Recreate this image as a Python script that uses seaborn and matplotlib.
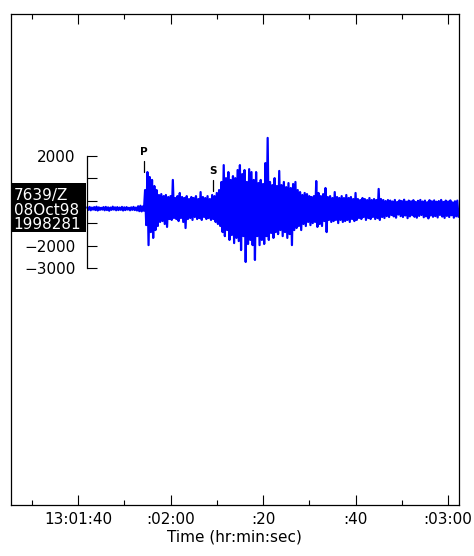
import matplotlib
matplotlib.use("Agg")
import matplotlib.pyplot as plt
import numpy as np
import pandas as pd
import seaborn as sns
from matplotlib.patches import Rectangle
from matplotlib.ticker import MultipleLocator

sns.set_style("white")
plt.rcParams['font.family'] = ['DejaVu Sans']
plt.rcParams.update({"text.color": "black", "axes.labelcolor": "black",
                     "xtick.color": "black", "ytick.color": "black"})

# station / trace labels
station_label = ["7639/Z", "08Oct98", "1998281"]

# seconds after 13:00:00
trace_start = 102.0
sample_step = 0.5

# envelope of the trace (counts), one max / min pair per half second
upper = [-300, -280, -310, -290, -270, -300, -320, -290, -280, -300,
         -310, -270, -300, -290, -310, -280, -300, -290, -320, -300,
         -280, -310, -250, -230, -260,
         470, 1270, 1050, 920, 650, 470, 250, 290, 200, 250,
         160, 200, 920, 115, 200, 340, 160, 115, 200, 70,
         160, 115, 200, 70, 380, 160, 115, 200, 70, 250,
         200, 340, 470, 830, 1580, 1000, 1270, 920, 1090, 1000,
         1360, 1580, 1180, 1360, 830, 1400, 1270, 920, 1270, 780,
         920, 740, 1670, 2790, 830, 690, 1000, 650, 1320, 690,
         830, 600, 780, 560, 740, 830, 470, 380, 250, 340,
         290, 200, 160, 200, 870, 340, 200, 290, 560, 160,
         200, 115, 380, 160, 115, 200, 115, 250, 115, 160,
         70, 340, 70, 25, 115, 70, 25, 115, 25, 70,
         25, 520, 70, 25, -20, 25,
         0, -40, 30, -60, 10, -20, 40, -50, 0, -30,
         20, -60, -10, 30, -40, 0, -70, 20, -30, 10,
         -50, -20, 30, -60, 0, -40, 10, -80, -30, 0]
lower = [-410, -430, -400, -420, -440, -410, -400, -430, -420, -450,
         -410, -400, -430, -420, -410, -440, -420, -400, -430, -410,
         -420, -440, -470, -480, -450,
         -1090, -1980, -1400, -1660, -1310, -1130, -950, -910, -1040, -1170,
         -820, -860, -775, -820, -910, -775, -950, -1220, -820, -775,
         -860, -730, -820, -775, -860, -730, -820, -775, -860, -820,
         -950, -1040, -1130, -1400, -1580, -1310, -1750, -1530, -1890, -1660,
         -1800, -2200, -1580, -2730, -1930, -1750, -1980, -2640, -1580, -1980,
         -1750, -1930, -1580, -1750, -1440, -1660, -1400, -1490, -1310, -1580,
         -1400, -1660, -1490, -1980, -1310, -1220, -1130, -1310, -1040, -1130,
         -950, -1090, -1000, -950, -1170, -1040, -1130, -910, -1400, -860,
         -950, -910, -860, -1000, -860, -950, -910, -860, -950, -820,
         -910, -860, -775, -820, -730, -860, -775, -820, -730, -820,
         -775, -860, -730, -775, -690, -730,
         -640, -700, -760, -620, -690, -730, -660, -780, -700, -650,
         -720, -760, -680, -640, -740, -700, -790, -660, -720, -690,
         -750, -640, -710, -770, -680, -730, -650, -760, -700, -720]

# phase picks
phase_names = ["P", "S"]
phase_times = [114.2, 129.25]
phase_levels = [1760, 920]

# axes
x_ticks = [100, 120, 140, 160, 180]
x_tick_labels = ["13:01:40", ":02:00", ":20", ":40", ":03:00"]
y_ticks = [-3000, -2000, -1000, 0, 1000, 2000]
y_tick_labels = ["\u22123000", "\u22122000", "", "", "", "2000"]
x_range = (85.45, 182.37)
y_range = (-13546, 8304)

n = min(len(upper), len(lower))
t = trace_start + sample_step * np.arange(n)
df = pd.DataFrame({
    "time": np.column_stack([t, t + sample_step / 2]).ravel(),
    "counts": np.column_stack([upper[:n], lower[:n]]).ravel(),
})

fig = plt.figure(figsize=(4.74, 5.56), dpi=100)
ax = fig.add_axes([0.0226, 0.0917, 0.9458, 0.8831])
sns.lineplot(data=df, x="time", y="counts", sort=False, estimator=None,
             color="#0000ff", linewidth=1.6, ax=ax)
ax.set_xlim(*x_range)
ax.set_ylim(*y_range)
for s in ax.spines.values():
    s.set_color("black")
    s.set_linewidth(0.9)
ax.set_xticks(x_ticks)
ax.set_xticklabels(x_tick_labels, fontsize=11)
ax.xaxis.set_minor_locator(MultipleLocator(10))
ax.tick_params(axis="x", which="both", direction="in", top=True, bottom=True,
               width=0.8, color="black", pad=5)
ax.tick_params(axis="x", which="major", length=7.5)
ax.tick_params(axis="x", which="minor", length=3.5)
ax.set_yticks([])
ax.set_xlabel("Time (hr:min:sec)", fontsize=11, labelpad=2)
ax.set_ylabel("")

# amplitude axis drawn at the trace start
ay = fig.add_axes(ax.get_position(), facecolor="none")
ay.set_xlim(*x_range)
ay.set_ylim(*y_range)
for k in ["top", "right", "bottom"]:
    ay.spines[k].set_visible(False)
ay.spines["left"].set_position(("data", trace_start))
ay.spines["left"].set_bounds(y_ticks[0], y_ticks[-1])
ay.spines["left"].set_linewidth(0.9)
ay.spines["left"].set_color("black")
ay.set_xticks([])
ay.set_yticks(y_ticks)
ay.set_yticklabels(y_tick_labels, fontsize=11)
ay.tick_params(axis="y", which="major", left=True, direction="in",
               length=7.2, width=0.8, pad=8.5, color="black")

# station label box
ay.add_patch(Rectangle((0, 0.556), 0.168, 0.1, transform=ay.transAxes,
                       facecolor="black", edgecolor="none", zorder=5))
ay.text(0.0067, 0.6008, "\n".join(station_label), transform=ay.transAxes,
        ha="left", va="center", color="white", fontsize=11, linespacing=0.95,
        zorder=6)

# phase markers
for name, pt, lv in zip(phase_names, phase_times, phase_levels):
    ax.plot([pt, pt], [lv - 490, lv], color="black", linewidth=0.9)
    ax.annotate(name, (pt, lv), xytext=(0, 3), textcoords="offset points",
                ha="center", va="bottom", fontsize=7.5, fontweight="bold")

fig.savefig("out.png", dpi=100)
